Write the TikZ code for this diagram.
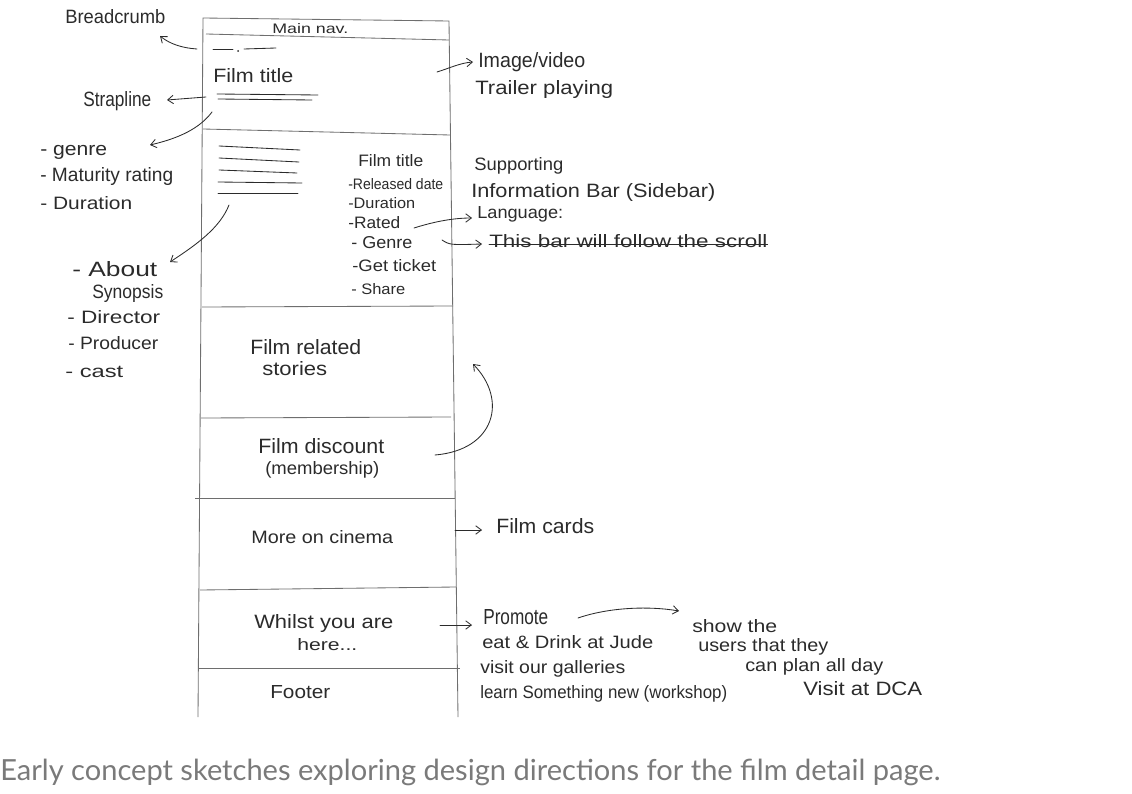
\documentclass[tikz,border=0pt]{standalone}
\usepackage{fontspec}
\setmainfont{Liberation Sans}
\newfontfamily\capfont{Lato}
\usetikzlibrary{arrows.meta}
\newlength\pxu \setlength\pxu{0.025cm}
\newcommand\fw[3][13]{\resizebox{#2\pxu}{#1\pxu}{\vphantom{Ag}#3}}
\newcommand\cw[1]{\resizebox{#1\pxu}{!}}
\definecolor{ink}{HTML}{2B2B2B}
\definecolor{frame}{HTML}{6E6E6E}
\definecolor{capgray}{HTML}{7A7A7A}
\tikzset{
  hw/.style={inner sep=0pt, anchor=west, text=ink},
  frameline/.style={draw=frame, line width=0.6pt},
  inkline/.style={draw=ink, line width=0.6pt, line cap=round},
  arr/.style={inkline, -{Straight Barb[length=4pt,width=6pt]}},
}
\begin{document}
\begin{tikzpicture}[x=0.025cm,y=-0.025cm]
\useasboundingbox (0,0) rectangle (1132,794);

% ---------- page frame ----------
\coordinate (tl) at (203,18);
\coordinate (tr) at (449,21);
\coordinate (bl) at (198,717);
\coordinate (br) at (458,717);
\draw[frameline] (bl) -- (tl) -- (tr) -- (br);
\draw[frameline] (206,34) -- (449,40);
\draw[frameline] (203,129) -- (450,135);
\draw[frameline] (202,307) -- (453,306);
\draw[frameline] (201,418) -- (451,417);
\draw[frameline] (195,498) -- (455,498);
\draw[frameline] (200,590) -- (456,587);
\draw[frameline] (198,668) -- (460,668);

% ---------- box contents ----------
\node[hw] (nav) at (272,30) {\fw[10]{76}{Main nav.}};
\draw[inkline] (213,49) -- (233,49);
\fill[ink] (238,51) circle (1);
\draw[inkline] (244,49) -- (276,48);
\node[hw] (ft1) at (213,78) {\fw[14]{80}{Film title}};
\draw[inkline] (217,94) -- (318,95);
\draw[inkline] (218,99) -- (312,100);

\draw[inkline] (219,146) -- (300,150);
\draw[inkline] (219,158) -- (299,162);
\draw[inkline] (219,170) -- (297,173);
\draw[inkline] (218,182) -- (302,183);
\draw[inkline] (218,193) -- (298,193);

\node[hw] (ft2) at (358,162) {\fw[12]{65}{Film title}};
\node[hw] (rel) at (348,186) {\fw[11]{95}{-Released date}};
\node[hw] (dur2) at (348,205) {\fw[11]{67}{-Duration}};
\node[hw] (rated) at (348,224) {\fw[12]{52}{-Rated}};
\node[hw] (genre2) at (351,244) {\fw[12]{61}{- Genre}};
\node[hw] (ticket) at (352,267) {\fw[12]{84}{-Get ticket}};
\node[hw] (share) at (351,291) {\fw[11]{54}{- Share}};

\node[hw] (frs1) at (250,349) {\fw[15]{111}{Film related}};
\node[hw] (frs2) at (262,371) {\fw[14]{65}{stories}};
\node[hw] (fd1) at (258,448) {\fw[15]{126}{Film discount}};
\node[hw] (fd2) at (265,470) {\fw[13]{114}{(membership)}};
\node[hw] (moc) at (251,539) {\fw[13]{142}{More on cinema}};
\node[hw] (wy1) at (254,624) {\fw[14]{139}{Whilst you are}};
\node[hw] (wy2) at (297,646) {\fw[12]{60}{here...}};
\node[hw] (footer) at (270,694) {\fw[13]{60}{Footer}};

% ---------- left annotations ----------
\node[hw] (bc) at (65,19) {\fw[14]{100}{Breadcrumb}};
\node[hw] (strap) at (83,101) {\fw[15]{68}{Strapline}};
\node[hw] (genre) at (40,151) {\fw[13]{67}{- genre}};
\node[hw] (mat) at (40,177) {\fw[14]{133}{- Maturity rating}};
\node[hw] (dur) at (40,205) {\fw[13]{92}{- Duration}};
\node[hw] (about) at (72,271) {\fw[15]{85}{- About}};
\node[hw] (syn) at (92,294) {\fw[14]{71}{Synopsis}};
\node[hw] (dir) at (67,319) {\fw[13]{93}{- Director}};
\node[hw] (prod) at (68,345) {\fw[13]{90}{- Producer}};
\node[hw] (cast) at (65,373) {\fw[12]{58}{- cast}};

% ---------- right annotations ----------
\node[hw] (img) at (478,62) {\fw[15]{107}{Image/video}};
\node[hw] (trail) at (475,90) {\fw[14]{138}{Trailer playing}};
\node[hw] (sup) at (474,166) {\fw[13]{89}{Supporting}};
\node[hw] (info) at (471,193) {\fw[14]{244}{Information Bar (Sidebar)}};
\node[hw] (lang) at (477,214) {\fw[12]{86}{Language:}};
\node[hw] (scroll) at (489,243) {\fw[13]{278}{This bar will follow the scroll}};
\draw[inkline] ([yshift=-1\pxu]scroll.west) -- ([yshift=-1\pxu]scroll.east);
\node[hw] (fc) at (496,528) {\fw[15]{98}{Film cards}};
\node[hw] (prom) at (483,619) {\fw[15]{65}{Promote}};
\node[hw] (eat) at (482,644) {\fw[13]{171}{eat \& Drink at Jude}};
\node[hw] (gal) at (480,669) {\fw[13]{145}{visit our galleries}};
\node[hw] (learn) at (480,694) {\fw[13]{247}{learn Something new (workshop)}};
\node[hw] (show) at (692,628) {\fw[13]{85}{show the}};
\node[hw] (users) at (698,647) {\fw[13]{130}{users that they}};
\node[hw] (plan) at (745,667) {\fw[13]{138}{can plan all day}};
\node[hw] (dca) at (803,691) {\fw[14]{119}{Visit at DCA}};

% ---------- arrows ----------
\coordinate (a1s) at (197,49);   \coordinate (a1e) at (160,36);
\draw[arr] (a1s) .. controls (182,48) and (170,44) .. (a1e);
\coordinate (a2s) at (206,97);   \coordinate (a2e) at (167,100);
\draw[arr] (a2s) -- (a2e);
\coordinate (a3s) at (212,112);  \coordinate (a3e) at (150,145);
\draw[arr] (a3s) .. controls (200,128) and (180,138) .. (a3e);
\coordinate (a4s) at (229,205);  \coordinate (a4e) at (170,262);
\draw[arr] (a4s) .. controls (220,228) and (196,245) .. (a4e);
\coordinate (a5s) at (437,72);   \coordinate (a5e) at (473,62);
\draw[arr] (a5s) .. controls (450,68) and (460,63) .. (a5e);
\coordinate (a6s) at (414,228);  \coordinate (a6e) at (472,218);
\draw[arr] (a6s) .. controls (430,223) and (450,218) .. (a6e);
\coordinate (a7s) at (442,240);  \coordinate (a7e) at (482,244);
\draw[arr] (a7s) .. controls (450,245) .. (a7e);
\coordinate (a8s) at (435,455);  \coordinate (a8e) at (473,364);
\draw[arr] (a8s) .. controls (495,450) and (508,400) .. (a8e);
\coordinate (a9s) at (455,530);  \coordinate (a9e) at (482,530);
\draw[arr] (a9s) -- (a9e);
\coordinate (a10s) at (440,625); \coordinate (a10e) at (472,625);
\draw[arr] (a10s) -- (a10e);
\coordinate (a11s) at (578,618); \coordinate (a11e) at (679,611);
\draw[arr] (a11s) .. controls (610,607) and (650,606) .. (a11e);

% ---------- caption ----------
\node[inner sep=0pt, anchor=west, text=capgray] (cap) at (0,772)
  {\cw{940}{\capfont Early concept sketches exploring design directions for the film detail page.}};
\end{tikzpicture}
\end{document}
